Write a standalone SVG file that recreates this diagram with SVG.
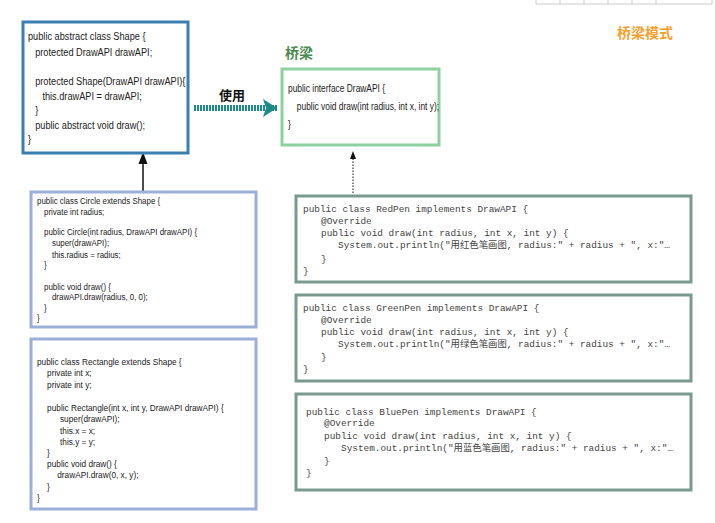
<svg xmlns="http://www.w3.org/2000/svg" width="715" height="523" viewBox="0 0 715 523">
<style>
.s{font-family:"Liberation Sans",Arial,sans-serif;fill:#222}
.m{font-family:"Liberation Mono","Noto Sans CJK SC",monospace;font-size:9.4px;fill:#444}
.box{fill:#fff}
</style>
<defs>
<marker id="ah" markerWidth="8" markerHeight="8" refX="4" refY="4" orient="auto"><path d="M0,1 L8,4 L0,7 Z" fill="#111"/></marker>
<marker id="ta" markerUnits="userSpaceOnUse" markerWidth="14" markerHeight="18" refX="14" refY="9" orient="auto"><path d="M0,0 L14,9 L0,18 L3,9 Z" fill="#1e8a86"/></marker>
</defs>
<rect width="715" height="523" fill="#fff"/>
<g stroke="#ccc" stroke-width="1" fill="none"><path d="M536,0 V4 H712 V0 M560,0 V4 M584,0 V4 M608,0 V4 M632,0 V4 M656,0 V4"/></g>
<text x="617" y="38" font-family="Noto Sans CJK SC,sans-serif" font-size="14" font-weight="bold" fill="#f6a030">桥梁模式</text>
<text x="285" y="58" font-family="Noto Sans CJK SC,sans-serif" font-size="14" font-weight="bold" fill="#4c8a50">桥梁</text>
<text x="219" y="100" font-family="Noto Sans CJK SC,sans-serif" font-size="13" font-weight="bold" fill="#111">使用</text>
<g id="connectors">
<line x1="194" y1="108" x2="277" y2="108" stroke="#1e8a86" stroke-width="6" stroke-dasharray="2 1" marker-end="url(#ta)"/>
<line x1="143" y1="191" x2="143" y2="158" stroke="#111" stroke-width="1.5" marker-end="url(#ah)"/>
<line x1="353" y1="193" x2="353" y2="155" stroke="#111" stroke-width="1" stroke-dasharray="1.5 1.5" marker-end="url(#ah)"/>
</g>
<g id="shape">
<rect class="box" x="23" y="22" width="165" height="131" stroke="#3a7fb0" stroke-width="3"/>
<g class="s" font-size="11.5" transform="translate(28,0) scale(0.8,1)">
<text x="0" y="40">public abstract class Shape {</text>
<text x="9" y="56">protected DrawAPI drawAPI;</text>
<text x="9" y="85">protected Shape(DrawAPI drawAPI){</text>
<text x="18" y="100">this.drawAPI = drawAPI;</text>
<text x="9" y="114">}</text>
<text x="9" y="129">public abstract void draw();</text>
<text x="0" y="143">}</text>
</g>
</g>
<g id="drawapi">
<rect class="box" x="282" y="69" width="157" height="76" stroke="#8ed0a0" stroke-width="3"/>
<g class="s" font-size="10.5" transform="translate(288,0) scale(0.8,1)">
<text x="0" y="92">public interface DrawAPI {</text>
<text x="11" y="110">public void draw(int radius, int x, int y);</text>
<text x="0" y="128">}</text>
</g>
</g>
<g id="circle">
<rect class="box" x="31" y="192" width="225" height="135" stroke="#9ab0d8" stroke-width="3"/>
<g class="s" font-size="9" transform="translate(37,0) scale(0.88,1)">
<text x="0" y="204">public class Circle extends Shape {</text>
<text x="8" y="215">private int radius;</text>
<text x="8" y="235">public Circle(int radius, DrawAPI drawAPI) {</text>
<text x="17" y="246">super(drawAPI);</text>
<text x="17" y="258">this.radius = radius;</text>
<text x="8" y="268">}</text>
<text x="8" y="290">public void draw() {</text>
<text x="17" y="300">drawAPI.draw(radius, 0, 0);</text>
<text x="8" y="311">}</text>
<text x="0" y="321">}</text>
</g>
</g>
<g id="rectangle">
<rect class="box" x="31" y="339" width="225" height="170" stroke="#9ab0d8" stroke-width="3"/>
<g class="s" font-size="9" transform="translate(37,0) scale(0.92,1)">
<text x="0" y="365">public class Rectangle extends Shape {</text>
<text x="11" y="376">private int x;</text>
<text x="11" y="388">private int y;</text>
<text x="11" y="411">public Rectangle(int x, int y, DrawAPI drawAPI) {</text>
<text x="25" y="422">super(drawAPI);</text>
<text x="25" y="434">this.x = x;</text>
<text x="25" y="445">this.y = y;</text>
<text x="11" y="456">}</text>
<text x="11" y="467">public void draw() {</text>
<text x="22" y="478">drawAPI.draw(0, x, y);</text>
<text x="11" y="490">}</text>
<text x="0" y="501">}</text>
</g>
</g>
<g id="redpen">
<rect class="box" x="296" y="196" width="395" height="86" stroke="#7a9a8e" stroke-width="3"/>
<g class="m">
<text x="303" y="212">public class RedPen implements DrawAPI {</text>
<text x="321" y="224">@Override</text>
<text x="321" y="236">public void draw(int radius, int x, int y) {</text>
<text x="338" y="248">System.out.println("用红色笔画图, radius:" + radius + ", x:"…</text>
<text x="321" y="262">}</text>
<text x="303" y="274">}</text>
</g>
</g>
<g id="greenpen">
<rect class="box" x="296" y="295" width="395" height="86" stroke="#7a9a8e" stroke-width="3"/>
<g class="m">
<text x="303" y="311">public class GreenPen implements DrawAPI {</text>
<text x="321" y="323">@Override</text>
<text x="321" y="335">public void draw(int radius, int x, int y) {</text>
<text x="338" y="347">System.out.println("用绿色笔画图, radius:" + radius + ", x:"…</text>
<text x="321" y="360">}</text>
<text x="303" y="372">}</text>
</g>
</g>
<g id="bluepen">
<rect class="box" x="296" y="394" width="395" height="96" stroke="#7a9a8e" stroke-width="3"/>
<g class="m">
<text x="306" y="415">public class BluePen implements DrawAPI {</text>
<text x="324" y="426">@Override</text>
<text x="324" y="439">public void draw(int radius, int x, int y) {</text>
<text x="341" y="451">System.out.println("用蓝色笔画图, radius:" + radius + ", x:"…</text>
<text x="324" y="464">}</text>
<text x="306" y="476">}</text>
</g>
</g>
</svg>
